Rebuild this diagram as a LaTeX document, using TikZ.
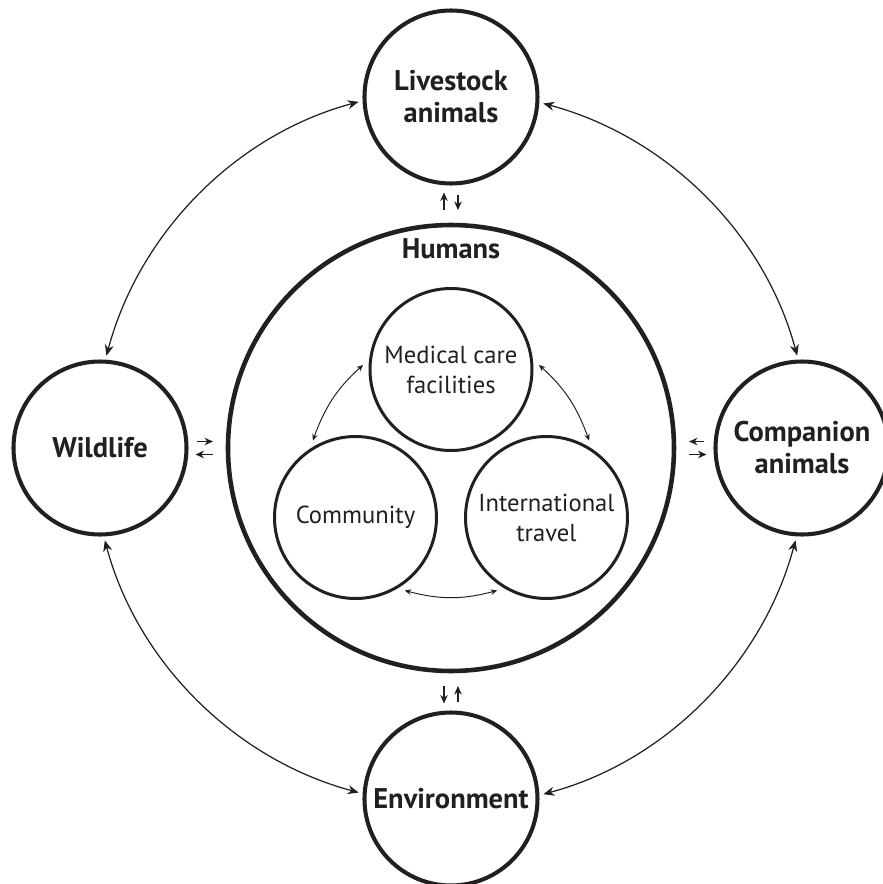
\documentclass[tikz,border=0pt]{standalone}
\usepackage{fontspec}
\setmainfont{PT Sans}
\usetikzlibrary{positioning,arrows.meta}
\definecolor{ink}{RGB}{35,31,32}

\begin{document}
\begin{tikzpicture}[
    color=ink,
    outer/.style={circle, draw, line width=2.3pt, minimum size=3.46cm,
                  inner sep=0pt, outer sep=0.12cm, align=center,
                  font=\bfseries\fontsize{16.2}{18.2}\selectfont},
    humans/.style={circle, draw, line width=2.6pt, minimum size=8.92cm,
                   outer sep=0pt},
    title/.style={font=\bfseries\fontsize{16.2}{18.2}\selectfont},
    inner/.style={circle, draw, line width=1.7pt, minimum size=3.24cm,
                  inner sep=0pt, outer sep=0.14cm, align=center,
                  font=\fontsize{14}{17}\selectfont},
    link/.style={line width=0.7pt, looseness=0.91,
                 {Stealth[length=2.2mm,width=1.8mm]}-{Stealth[length=2.2mm,width=1.8mm]}},
    flow/.style={line width=0.55pt,
                 {Stealth[length=1.3mm,width=1.1mm]}-{Stealth[length=1.3mm,width=1.1mm]}},
    pair/.style={line width=1pt, -{Stealth[length=1.7mm,width=1.5mm]}}
  ]
    % Marco
    \fill[white] (-9.02,-8.72) rectangle (8.64,8.96);
    \useasboundingbox (-9.02,-8.72) rectangle (8.64,8.96);

    % Humanos
    \node[humans] (hum) at (0,0) {};
    \node[title, below=0.15cm of hum.north] (humtitle) {Humans};

    % Circulos exteriores
    \node[outer, above=0.71cm of hum] (liv) {Livestock\\animals};
    \node[outer, left=0.71cm of hum] (wild) {Wildlife};
    \node[outer, right=0.71cm of hum] (comp) {Companion\\animals};
    \node[outer, below=0.71cm of hum] (env) {Environment};

    % Circulos interiores
    \node[inner] (med) at (0,1.57) {Medical care\\facilities};
    \node[inner] (com) at (-1.91,-1.39) {Community};
    \node[inner] (intl) at (1.91,-1.39) {International\\travel};

    % Arcos exteriores
    \draw[link] (liv.183.5) to[out=195, in=75] (wild.86.5);
    \draw[link] (wild.273.5) to[out=285, in=165] (env.176.5);
    \draw[link] (env.3.5) to[out=15, in=255] (comp.266.5);
    \draw[link] (comp.93.5) to[out=105, in=-15] (liv.356.5);

    % Arcos interiores
    \draw[flow] (med.177) to[out=222, in=70] (com.119);
    \draw[flow] (med.3) to[out=-42, in=110] (intl.61);
    \draw[flow] (com.304) to[out=-15, in=195] (intl.236);

    % Flechas cortas
    \draw[pair, shorten <=0.10cm, shorten >=0.30cm] ([yshift=0.13cm]wild.east) -- ([yshift=0.13cm]hum.west);
    \draw[pair, shorten <=0.30cm, shorten >=0.06cm] ([yshift=-0.13cm]hum.west) -- ([yshift=-0.13cm]wild.east);
    \draw[pair, shorten <=0.10cm, shorten >=0.30cm] ([yshift=0.13cm]comp.west) -- ([yshift=0.13cm]hum.east);
    \draw[pair, shorten <=0.30cm, shorten >=0.06cm] ([yshift=-0.13cm]hum.east) -- ([yshift=-0.13cm]comp.west);
    \draw[pair, shorten <=0.10cm, shorten >=0.30cm] ([xshift=0.14cm]liv.south) -- ([xshift=0.14cm]hum.north);
    \draw[pair, shorten <=0.30cm, shorten >=0.06cm] ([xshift=-0.14cm]hum.north) -- ([xshift=-0.14cm]liv.south);
    \draw[pair, shorten <=0.10cm, shorten >=0.30cm] ([xshift=0.14cm]env.north) -- ([xshift=0.14cm]hum.south);
    \draw[pair, shorten <=0.30cm, shorten >=0.06cm] ([xshift=-0.14cm]hum.south) -- ([xshift=-0.14cm]env.north);
\end{tikzpicture}
\end{document}
